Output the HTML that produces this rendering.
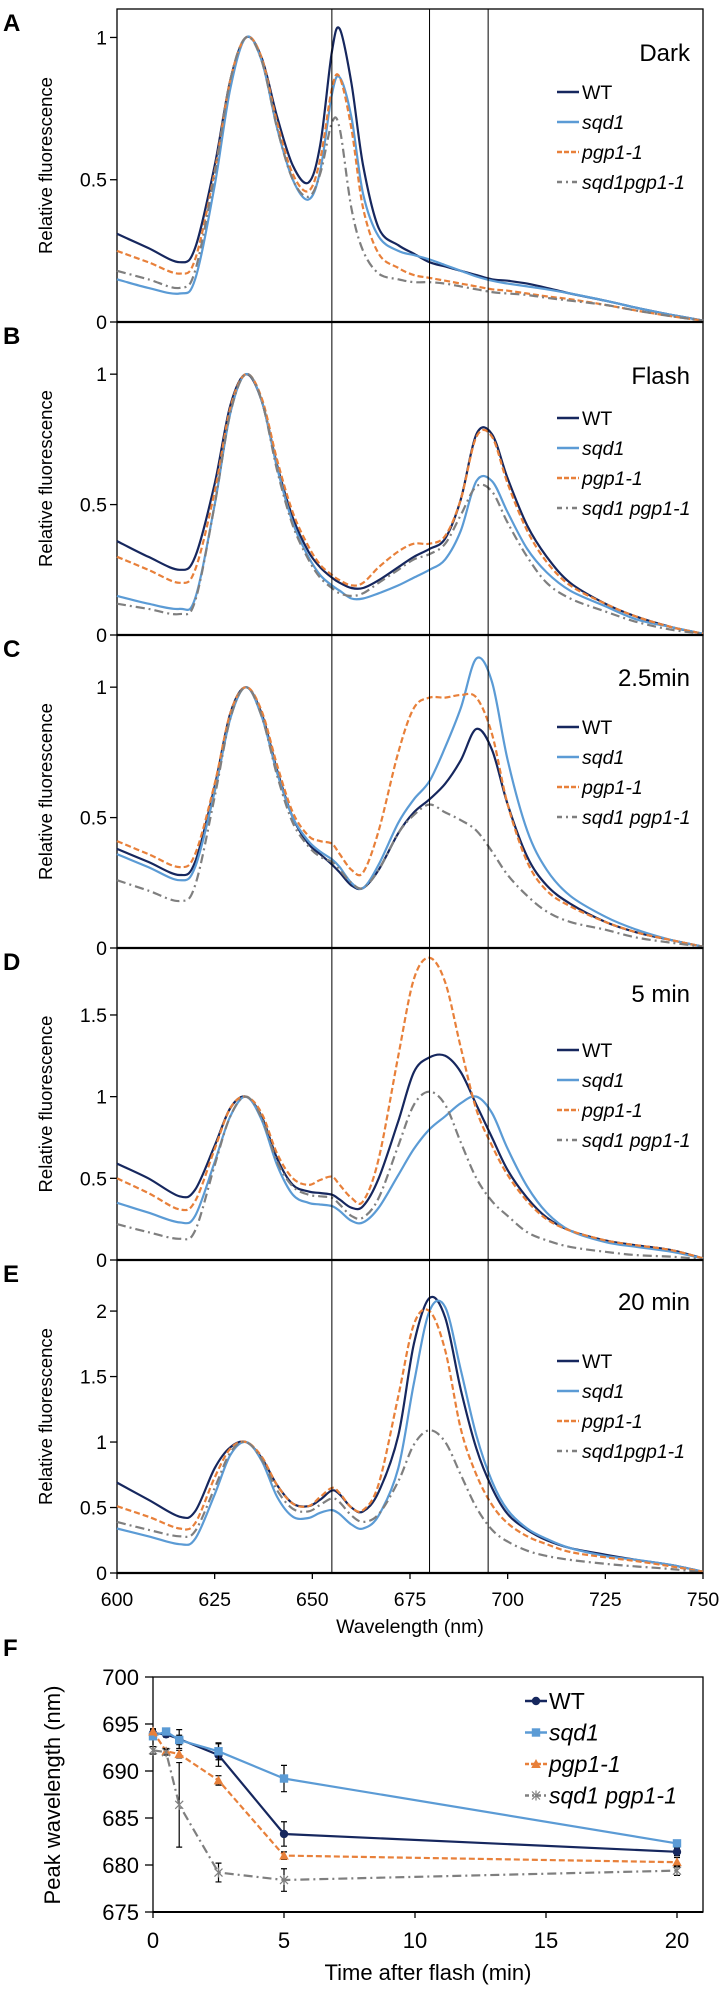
<!DOCTYPE html>
<html><head><meta charset="utf-8">
<style>
html,body{margin:0;padding:0;background:#fff;}
svg{display:block;font-family:"Liberation Sans",Arial,sans-serif;}
</style></head>
<body>
<svg id="fig" width="720" height="1989" viewBox="0 0 720 1989" xmlns="http://www.w3.org/2000/svg"></svg>
<script>
// ---------- data ----------
const wavelengths = [600,608,616,620,625,629,633,637,641,645,649,652,655,657,660,663,667,672,676,680,684,688,692,696,700,705,710,716,725,733,742,750];
const seriesNames = ["WT","sqd1","pgp1-1","sqd1 pgp1-1"];

const darkWT   = [.31,.26,.21,.26,.55,.85,1.0,.93,.72,.55,.49,.62,.95,1.03,.84,.55,.33,.27,.24,.21,.195,.18,.165,.15,.145,.135,.12,.10,.075,.05,.025,.005];
const darkSqd1 = [.15,.12,.10,.15,.48,.82,1.0,.92,.68,.50,.43,.53,.80,.86,.72,.45,.30,.25,.235,.22,.20,.18,.16,.145,.135,.125,.115,.10,.075,.05,.025,.005];
const darkPgp  = [.25,.21,.17,.22,.53,.85,1.0,.93,.70,.52,.46,.57,.82,.86,.68,.40,.24,.19,.165,.155,.145,.135,.125,.115,.11,.10,.09,.08,.06,.04,.02,.005];
const darkDbl  = [.18,.15,.12,.18,.52,.85,1.0,.92,.68,.50,.44,.52,.70,.68,.40,.25,.17,.15,.14,.14,.135,.125,.115,.105,.10,.095,.085,.075,.06,.04,.02,.005];

const flashWT   = [.36,.30,.25,.30,.58,.88,1.0,.90,.65,.45,.32,.26,.22,.20,.18,.18,.21,.26,.30,.33,.37,.52,.77,.77,.60,.42,.30,.20,.12,.07,.03,.005];
const flashSqd1 = [.15,.12,.10,.14,.50,.85,1.0,.90,.64,.43,.30,.23,.19,.17,.14,.14,.16,.19,.22,.25,.29,.40,.59,.59,.47,.33,.24,.17,.11,.06,.03,.005];
const flashPgp  = [.30,.25,.20,.25,.55,.87,1.0,.91,.67,.47,.34,.27,.23,.21,.19,.20,.26,.32,.35,.35,.38,.52,.76,.76,.58,.40,.28,.19,.12,.07,.03,.005];
const flashDbl  = [.12,.10,.08,.13,.50,.85,1.0,.90,.63,.42,.29,.22,.18,.16,.15,.16,.20,.25,.29,.31,.35,.46,.57,.55,.43,.30,.20,.14,.09,.05,.02,.005];

const m25WT   = [.38,.33,.28,.33,.62,.90,1.0,.90,.68,.50,.40,.36,.32,.29,.24,.23,.30,.44,.52,.57,.63,.72,.84,.76,.55,.35,.24,.17,.10,.06,.03,.005];
const m25Sqd1 = [.36,.31,.26,.31,.60,.88,1.0,.89,.67,.50,.41,.37,.34,.31,.25,.23,.32,.48,.57,.64,.77,.92,1.11,1.02,.72,.45,.30,.20,.12,.07,.03,.005];
const m25Pgp  = [.41,.36,.31,.36,.63,.90,1.0,.91,.70,.52,.43,.41,.40,.36,.30,.29,.45,.75,.92,.96,.96,.97,.96,.82,.55,.33,.22,.16,.10,.06,.03,.005];
const m25Dbl  = [.26,.22,.18,.24,.58,.88,1.0,.89,.66,.48,.39,.35,.33,.30,.25,.23,.30,.44,.51,.55,.52,.49,.45,.37,.28,.20,.14,.10,.07,.04,.02,.005];

const m5WT   = [.59,.50,.39,.43,.70,.93,1.0,.88,.62,.46,.42,.41,.40,.37,.32,.33,.50,.85,1.15,1.24,1.25,1.15,.95,.75,.55,.38,.26,.18,.12,.09,.06,.01];
const m5Sqd1 = [.35,.29,.23,.27,.60,.88,1.0,.86,.58,.40,.35,.34,.33,.30,.24,.23,.32,.52,.68,.80,.88,.96,1.0,.90,.68,.45,.29,.18,.11,.08,.05,.01];
const m5Pgp  = [.50,.41,.31,.36,.68,.93,1.0,.90,.65,.50,.46,.49,.51,.46,.38,.36,.62,1.25,1.72,1.85,1.70,1.30,.92,.70,.52,.36,.25,.18,.12,.09,.06,.01];
const m5Dbl  = [.22,.17,.13,.18,.58,.88,1.0,.87,.60,.45,.40,.39,.38,.34,.27,.26,.38,.70,.95,1.03,.95,.72,.50,.36,.27,.17,.12,.08,.05,.03,.02,.005];

const m20WT   = [.69,.56,.43,.47,.80,.96,1.0,.88,.67,.53,.51,.56,.63,.60,.50,.47,.62,1.05,1.75,2.10,1.95,1.40,.95,.65,.45,.33,.25,.19,.14,.10,.06,.01];
const m20Sqd1 = [.34,.28,.22,.26,.60,.90,1.0,.86,.58,.43,.42,.46,.48,.45,.37,.34,.44,.80,1.45,2.0,2.03,1.55,1.05,.70,.48,.34,.26,.19,.13,.10,.06,.01];
const m20Pgp  = [.51,.43,.34,.38,.73,.95,1.0,.89,.67,.53,.51,.58,.65,.61,.50,.48,.68,1.35,1.90,2.0,1.70,1.10,.75,.52,.38,.28,.22,.16,.12,.09,.05,.01];
const m20Dbl  = [.39,.33,.28,.32,.65,.92,1.0,.87,.63,.49,.47,.52,.57,.54,.44,.39,.45,.70,.98,1.09,1.0,.75,.50,.33,.24,.17,.13,.10,.07,.05,.03,.005];

const xTicks = [600,625,650,675,700,725,750];
const refLines = [655,680,695];

const times = [0,0.5,1,2.5,5,20];
const peakWT   = [694.0,693.9,693.4,691.7,683.3,681.4];
const peakSqd1 = [693.7,694.2,693.3,692.1,689.2,682.3];
const peakPgp  = [694.2,692.1,691.8,689.0,681.0,680.3];
const peakDbl  = [692.2,692.0,686.4,679.2,678.4,679.4];
const errWT    = [0.4,0.3,1.0,1.2,1.3,0.4];
const errSqd1  = [0.3,0.2,0.5,0.9,1.4,0.3];
const errPgp   = [0.3,0.3,0.4,0.5,0.4,0.5];
const errDbl   = [0.4,0.3,4.5,1.0,1.2,0.5];
const fYTicks = [675,680,685,690,695,700];
const fXTicks = [0,5,10,15,20];

// ---------- helpers ----------
const NS="http://www.w3.org/2000/svg";
const svg=document.getElementById('fig');
function mk(tag,attrs,parent){const e=document.createElementNS(NS,tag);for(const k in attrs)e.setAttribute(k,attrs[k]);(parent||svg).appendChild(e);return e;}
function txt(s,attrs,parent){const e=mk('text',attrs,parent);e.textContent=s;return e;}
const colors={WT:"#16275e",sqd1:"#5b9bd5",pgp:"#e8803a",dbl:"#7f7f7f"};
const dashes={WT:"",sqd1:"",pgp:"6 3",dbl:"9 4 2 4"};
const keys=["WT","sqd1","pgp","dbl"];

const X0=117,X1=703;
const xScale=w=>X0+(w-600)/150*(X1-X0);

function smoothPath(pts){
  let d="M"+pts[0][0].toFixed(1)+","+pts[0][1].toFixed(1);
  for(let i=0;i<pts.length-1;i++){
    const p0=pts[Math.max(0,i-1)],p1=pts[i],p2=pts[i+1],p3=pts[Math.min(pts.length-1,i+2)];
    const c1=[p1[0]+(p2[0]-p0[0])/6,p1[1]+(p2[1]-p0[1])/6];
    const c2=[p2[0]-(p3[0]-p1[0])/6,p2[1]-(p3[1]-p1[1])/6];
    d+=` C${c1[0].toFixed(1)},${c1[1].toFixed(1)} ${c2[0].toFixed(1)},${c2[1].toFixed(1)} ${p2[0].toFixed(1)},${p2[1].toFixed(1)}`;
  }
  return d;
}

const panels=[
 {id:"a",letter:"A",title:"Dark",top:9,bottom:322,max:1.1,ticks:[0,0.5,1],data:[darkWT,darkSqd1,darkPgp,darkDbl],titleY:52,legY:92,lab4:"sqd1pgp1-1"},
 {id:"b",letter:"B",title:"Flash",top:322,bottom:635,max:1.2,ticks:[0,0.5,1],data:[flashWT,flashSqd1,flashPgp,flashDbl],titleY:375,legY:418,lab4:"sqd1 pgp1-1"},
 {id:"c",letter:"C",title:"2.5min",top:635,bottom:948,max:1.2,ticks:[0,0.5,1],data:[m25WT,m25Sqd1,m25Pgp,m25Dbl],titleY:677,legY:727,lab4:"sqd1 pgp1-1"},
 {id:"d",letter:"D",title:"5 min",top:948,bottom:1260,max:1.91,ticks:[0,0.5,1,1.5],data:[m5WT,m5Sqd1,m5Pgp,m5Dbl],titleY:993,legY:1050,lab4:"sqd1 pgp1-1"},
 {id:"e",letter:"E",title:"20 min",top:1260,bottom:1573,max:2.39,ticks:[0,0.5,1,1.5,2],data:[m20WT,m20Sqd1,m20Pgp,m20Dbl],titleY:1301,legY:1361,lab4:"sqd1pgp1-1"}
];

panels.forEach((p,pi)=>{
  const g=mk('g',{});
  
  
  const yS=v=>p.bottom-v/p.max*(p.bottom-p.top);
  const fr=mk('rect',{x:X0,y:p.top,width:X1-X0,height:p.bottom-p.top,fill:"none",stroke:"#000","stroke-width":1.3},g);
  
  
  p.ticks.forEach(t=>{
    const y=yS(t);
    const tk=mk('line',{x1:X0-7,x2:X0,y1:y,y2:y,stroke:"#000","stroke-width":1.3},g);
    
    
    const tl=txt(String(t),{x:X0-10,y:y+7,"font-size":19.5,"text-anchor":"end",fill:"#000"},g);
    
    
  });
  p.data.forEach((arr,si)=>{
    const pts=wavelengths.map((w,i)=>[xScale(w),yS(arr[i])]);
    const k=keys[si];
    const pa=mk('path',{d:smoothPath(pts),fill:"none",stroke:colors[k],"stroke-width":2.2,"stroke-dasharray":dashes[k],"stroke-linejoin":"round"},g);
    
    
  });
  const zl=mk('line',{x1:X0,x2:X1,y1:p.bottom,y2:p.bottom,stroke:"#000","stroke-width":2.2},g);
  
  
  const tt=txt(p.title,{x:690,y:p.titleY+9,"font-size":24,"text-anchor":"end",fill:"#000"},g);
  
  
  const lt=txt(p.letter,{x:3,y:p.top+22,"font-size":24,"font-weight":"bold",fill:"#000"},g);
  
  
  const cy=(p.top+p.bottom)/2;
  const yt=txt("Relative fluorescence",{x:0,y:0,"font-size":18.5,"text-anchor":"middle",transform:`translate(52,${cy}) rotate(-90)`,fill:"#000"},g);
  
  
  const labels=["WT","sqd1","pgp1-1",p.lab4];
  keys.forEach((k,i)=>{
    const y=p.legY+i*30;
    const le=mk('g',{},g);
    
    
    mk('line',{x1:557,x2:579,y1:y,y2:y,stroke:colors[k],"stroke-width":2.4,"stroke-dasharray":k==="pgp"?"5 2":(k==="dbl"?"5 4 2 4":"")},le);
    txt(labels[i],{x:582,y:y+7,"font-size":19.5,"font-style":k==="WT"?"normal":"italic",fill:"#000"},le);
  });
});

refLines.forEach(w=>{
  const l=mk('line',{x1:xScale(w),x2:xScale(w),y1:9,y2:1573,stroke:"#000","stroke-width":1});
  
  
});

xTicks.forEach(w=>{
  const x=xScale(w);
  const t=mk('line',{x1:x,x2:x,y1:1573,y2:1579,stroke:"#000","stroke-width":1.3});
  
  
  const tl=txt(String(w),{x:x,y:1606,"font-size":19.5,"text-anchor":"middle",fill:"#000"});
  
  
});
const wxt=txt("Wavelength (nm)",{x:410,y:1633,"font-size":19.5,"text-anchor":"middle",fill:"#000"});



// ---------- panel F ----------
const FX0=153,FX1=703,FY0=1677,FY1=1912;
const fx=t=>FX0+t/20*(677-FX0);
const fy=v=>FY1-(v-675)/25*(FY1-FY0);
const gF=mk('g',{});


const ff=mk('rect',{x:FX0,y:FY0,width:FX1-FX0,height:FY1-FY0,fill:"none",stroke:"#000","stroke-width":1.3},gF);


mk('line',{x1:FX0,x2:FX1,y1:FY1,y2:FY1,stroke:"#000","stroke-width":2},gF);
const fl=txt("F",{x:3,y:1656,"font-size":24,"font-weight":"bold",fill:"#000"},gF);


fYTicks.forEach(v=>{
  const y=fy(v);
  const t=mk('line',{x1:FX0-8,x2:FX0,y1:y,y2:y,stroke:"#000","stroke-width":1.3},gF);
  
  
  const tl=txt(String(v),{x:FX0-14,y:y+8,"font-size":22,"text-anchor":"end",fill:"#000"},gF);
  
  
});
fXTicks.forEach(v=>{
  const x=fx(v);
  const t=mk('line',{x1:x,x2:x,y1:FY1,y2:FY1+6,stroke:"#000","stroke-width":1.3},gF);
  
  
  const tl=txt(String(v),{x:x,y:1948,"font-size":22,"text-anchor":"middle",fill:"#000"},gF);
  
  
});
const fyt=txt("Peak wavelength (nm)",{x:0,y:0,"font-size":22,"text-anchor":"middle",transform:"translate(60,1795) rotate(-90)",fill:"#000"},gF);


const fxt=txt("Time after flash (min)",{x:428,y:1980,"font-size":22,"text-anchor":"middle",fill:"#000"},gF);



const fSeries=[[peakWT,errWT,"WT"],[peakSqd1,errSqd1,"sqd1"],[peakPgp,errPgp,"pgp"],[peakDbl,errDbl,"dbl"]];
function marker(k,x,y,parent){
  let m;
  if(k==="WT") m=mk('circle',{cx:x,cy:y,r:4.2,fill:colors.WT},parent);
  else if(k==="sqd1") m=mk('rect',{x:x-4.2,y:y-4.2,width:8.4,height:8.4,fill:colors.sqd1},parent);
  else if(k==="pgp") m=mk('polygon',{points:`${x},${y-5} ${x-4.8},${y+4} ${x+4.8},${y+4}`,fill:colors.pgp},parent);
  else m=mk('path',{d:`M${x-4},${y-4}L${x+4},${y+4}M${x+4},${y-4}L${x-4},${y+4}M${x},${y-5}L${x},${y+5}`,stroke:colors.dbl,"stroke-width":1.2,fill:"none"},parent);
  return m;
}
fSeries.forEach(([vals,errs,k])=>{
  const gs=mk('g',{},gF);
  
  
  const d=times.map((t,i)=>(i?"L":"M")+fx(t).toFixed(1)+","+fy(vals[i]).toFixed(1)).join("");
  mk('path',{d:d,fill:"none",stroke:colors[k],"stroke-width":2.2,"stroke-dasharray":k==="pgp"?"6 3":(k==="dbl"?"9 4 2 4":"")},gs);
  times.forEach((t,i)=>{
    const x=fx(t),y1=fy(vals[i]-errs[i]),y2=fy(vals[i]+errs[i]);
    const eb=mk('path',{d:`M${x},${y1}L${x},${y2}M${x-3},${y1}L${x+3},${y1}M${x-3},${y2}L${x+3},${y2}`,stroke:"#000","stroke-width":1.2,fill:"none"},gs);
    
    
    const m=marker(k,x,fy(vals[i]),gs);
    
    
  });
});
const fLab=["WT","sqd1","pgp1-1","sqd1 pgp1-1"];
fSeries.forEach(([v,e,k],i)=>{
  const y=1701+i*31.5;
  const le=mk('g',{},gF);
  
  
  mk('line',{x1:525,x2:547,y1:y,y2:y,stroke:colors[k],"stroke-width":2.4,"stroke-dasharray":k==="pgp"?"4 2":(k==="dbl"?"4 3 2 3":"")},le);
  marker(k,536,y,le);
  txt(fLab[i],{x:549,y:y+8,"font-size":23,"font-style":k==="WT"?"normal":"italic",fill:"#000"},le);
});
</script>
</body></html>
